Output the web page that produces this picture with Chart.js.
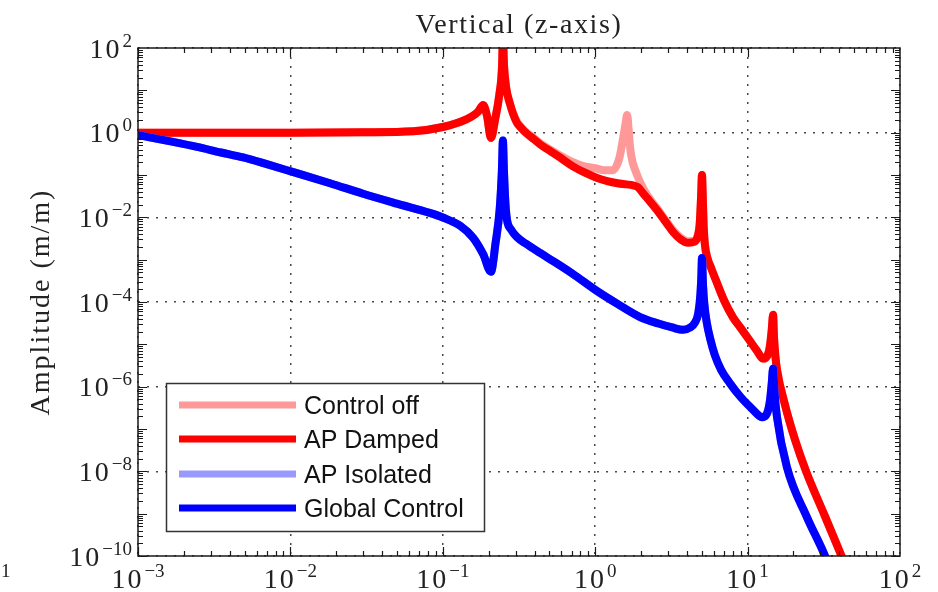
<!DOCTYPE html>
<html>
<head>
<meta charset="utf-8">
<script src="https://cdn.jsdelivr.net/npm/chart.js@4.4.0/dist/chart.umd.min.js"></script>
<style>
    html, body { margin: 0; padding: 0; background: #fff; }
</style>
</head>
<body>
<canvas id="fig" width="938" height="592"></canvas>
<script>
// Frequency (Hz) / amplitude (m/m)
const offFreq = [0.001, 0.01, 0.03, 0.064, 0.1, 0.14, 0.17, 0.184, 0.195, 0.207, 0.22, 0.235, 0.245, 0.248, 0.252, 0.26, 0.275, 0.29, 0.307, 0.33, 0.35, 0.4, 0.435, 0.5, 0.587, 0.714, 0.85, 1.0, 1.15, 1.3, 1.44, 1.52, 1.58, 1.62, 1.66, 1.7, 1.76, 1.83, 1.97, 2.2, 2.54, 2.9, 3.24, 3.6, 4.06, 4.4, 4.7, 4.85, 4.95, 5.02, 5.08, 5.15, 5.25, 5.45, 5.8, 6.3, 7.0, 8.0, 9.0, 10.4, 11.5, 12.6, 13.4, 14.0, 14.4, 14.7, 14.9, 15.2, 15.6, 17.6, 20.5, 24.2, 32, 41.6, 50];
const offAmp = [1.0, 1.0, 1.02, 1.08, 1.36, 2.0, 3.1, 4.5, 2.5, 0.75, 2.0, 8, 40, 200, 40, 12, 5, 2.8, 1.8, 1.3, 1.05, 0.72, 0.56, 0.41, 0.29, 0.2, 0.16, 0.145, 0.13, 0.13, 0.25, 0.7, 1.6, 2.6, 1.1, 0.4, 0.2, 0.13, 0.068, 0.033, 0.0165, 0.0085, 0.005, 0.0034, 0.0027, 0.0028, 0.0037, 0.007, 0.03, 0.1, 0.03, 0.006, 0.0022, 1.1e-3, 6e-4, 2.8e-4, 1.1e-4, 4.4e-5, 2.44e-5, 1.18e-5, 7.1e-6, 4.6e-6, 5.2e-6, 9e-6, 2.2e-5, 5e-5, 1.5e-5, 5.5e-6, 2.5e-6, 3.7e-7, 5.5e-8, 1e-8, 9.1e-10, 9.5e-11, 1.9e-11];

const dampedFreq = [0.001, 0.01, 0.03, 0.064, 0.1, 0.14, 0.17, 0.184, 0.195, 0.207, 0.22, 0.235, 0.245, 0.248, 0.252, 0.26, 0.275, 0.29, 0.307, 0.33, 0.35, 0.4, 0.435, 0.5, 0.587, 0.714, 0.85, 1.03, 1.2, 1.4, 1.6, 1.77, 1.9, 2.05, 2.2, 2.54, 2.9, 3.24, 3.6, 4.06, 4.4, 4.7, 4.85, 4.95, 5.02, 5.08, 5.15, 5.25, 5.45, 5.8, 6.3, 7.0, 8.0, 9.0, 10.4, 11.5, 12.6, 13.4, 14.0, 14.4, 14.7, 14.9, 15.2, 15.6, 17.6, 20.5, 24.2, 32, 41.6, 50];
const dampedAmp = [1.0, 1.0, 1.02, 1.08, 1.36, 2.0, 3.1, 4.5, 2.5, 0.75, 2.0, 8, 40, 200, 40, 12, 5, 2.7, 1.7, 1.25, 1.0, 0.68, 0.53, 0.38, 0.26, 0.16, 0.115, 0.085, 0.072, 0.064, 0.06, 0.057, 0.052, 0.038, 0.028, 0.0149, 0.0078, 0.0045, 0.0031, 0.0025, 0.0026, 0.0035, 0.007, 0.03, 0.1, 0.03, 0.006, 0.0022, 1.1e-3, 6e-4, 2.8e-4, 1.1e-4, 4.4e-5, 2.44e-5, 1.18e-5, 7.1e-6, 4.6e-6, 5.2e-6, 9e-6, 2.2e-5, 5e-5, 1.5e-5, 5.5e-6, 2.5e-6, 3.7e-7, 5.5e-8, 1e-8, 9.1e-10, 9.5e-11, 1.9e-11];

const isolatedFreq = [0.001, 0.0016, 0.00244, 0.0035, 0.0049, 0.007, 0.0102, 0.0182, 0.03, 0.05, 0.082, 0.1, 0.13, 0.158, 0.184, 0.207, 0.222, 0.236, 0.244, 0.248, 0.252, 0.258, 0.264, 0.28, 0.307, 0.35, 0.435, 0.55, 0.714, 1.03, 1.4, 1.97, 2.6, 3.2, 3.77, 4.2, 4.5, 4.75, 4.9, 4.97, 5.02, 5.1, 5.2, 5.4, 5.7, 6.1, 6.7, 7.66, 9.0, 10.4, 11.5, 12.4, 13.3, 14.0, 14.4, 14.7, 15.0, 15.6, 18.1, 24.5, 32.2, 40];
const isolatedAmp = [0.88, 0.63, 0.46, 0.34, 0.26, 0.18, 0.12, 0.064, 0.036, 0.021, 0.0127, 0.0099, 0.0063, 0.0033, 1.35e-3, 5.2e-4, 2.5e-3, 0.015, 0.12, 0.65, 0.12, 0.02, 8.6e-3, 5.2e-3, 3.4e-3, 2.4e-3, 1.44e-3, 8.5e-4, 4.6e-4, 1.8e-4, 9e-5, 4.4e-5, 3.1e-5, 2.5e-5, 2.2e-5, 2.5e-5, 3.2e-5, 5.5e-5, 1.5e-4, 4e-4, 1.1e-3, 2.5e-4, 9e-5, 3.2e-5, 1.3e-5, 5.5e-6, 2.5e-6, 1.2e-6, 5.7e-7, 3.3e-7, 2.3e-7, 1.9e-7, 2.2e-7, 4.5e-7, 1.2e-6, 2.7e-6, 8e-7, 1.9e-7, 1.26e-8, 8.3e-10, 1e-10, 1.2e-11];

const globalFreq = [0.001, 0.0016, 0.00244, 0.0035, 0.0049, 0.007, 0.0102, 0.0182, 0.03, 0.05, 0.082, 0.1, 0.13, 0.158, 0.184, 0.207, 0.222, 0.236, 0.244, 0.248, 0.252, 0.258, 0.264, 0.28, 0.307, 0.35, 0.435, 0.55, 0.714, 1.03, 1.4, 1.97, 2.6, 3.2, 3.77, 4.2, 4.5, 4.75, 4.9, 4.97, 5.02, 5.1, 5.2, 5.4, 5.7, 6.1, 6.7, 7.66, 9.0, 10.4, 11.5, 12.4, 13.3, 14.0, 14.4, 14.7, 15.0, 15.6, 18.1, 24.5, 32.2, 40];
const globalAmp = [0.88, 0.63, 0.46, 0.34, 0.26, 0.18, 0.12, 0.064, 0.036, 0.021, 0.0127, 0.0099, 0.0063, 0.0033, 1.35e-3, 5.2e-4, 2.5e-3, 0.015, 0.12, 0.65, 0.12, 0.02, 8.6e-3, 5.2e-3, 3.4e-3, 2.4e-3, 1.44e-3, 8.5e-4, 4.6e-4, 1.8e-4, 9e-5, 4.4e-5, 3.1e-5, 2.5e-5, 2.2e-5, 2.5e-5, 3.2e-5, 5.5e-5, 1.5e-4, 4e-4, 1.1e-3, 2.5e-4, 9e-5, 3.2e-5, 1.3e-5, 5.5e-6, 2.5e-6, 1.2e-6, 5.7e-7, 3.3e-7, 2.3e-7, 1.9e-7, 2.2e-7, 4.5e-7, 1.2e-6, 2.7e-6, 8e-7, 1.9e-7, 1.26e-8, 8.3e-10, 1e-10, 1.2e-11];

const seriesLabels = ['Control off', 'AP Damped', 'AP Isolated', 'Global Control'];
const seriesColors = ['#ff9999', '#ff0000', '#9999ff', '#0000ff'];

// tick label exponents (10^e)
const xTickExps = [-3, -2, -1, 0, 1, 2];
const yTickExps = [2, 0, -2, -4, -6, -8, -10];

const titleText = 'Vertical (z-axis)';
const yTitleText = 'Amplitude (m/m)';

const serif = '"Liberation Serif", "Times New Roman", serif';
const sans = '"Liberation Sans", Arial, sans-serif';

function toPoints(xs, ys) {
    return xs.map((v, i) => ({ x: v, y: ys[i] }));
}

function isPow10(v) {
    const l = Math.log10(v);
    return Math.abs(l - Math.round(l)) < 1e-6;
}

const allSeries = [
    toPoints(offFreq, offAmp),
    toPoints(dampedFreq, dampedAmp),
    toPoints(isolatedFreq, isolatedAmp),
    toPoints(globalFreq, globalAmp)
];

const datasets = allSeries.map((pts, i) => ({
    label: seriesLabels[i],
    data: pts,
    borderColor: seriesColors[i],
    backgroundColor: seriesColors[i],
    borderWidth: 8,
    pointRadius: 0,
    cubicInterpolationMode: 'monotone',
    borderJoinStyle: 'round',
    borderCapStyle: 'round',
    clip: 0,
    order: 4 - i
}));

function drawPow(ctx, e, x, baseline, align) {
    const base = '10';
    const exp = (e < 0 ? '\u2212' : '') + Math.abs(e);
    ctx.font = '28px ' + serif;
    ctx.letterSpacing = '2px';
    const wb = ctx.measureText(base).width;
    ctx.font = '19px ' + serif;
    ctx.letterSpacing = '0px';
    const we = ctx.measureText(exp).width;
    const total = wb + 1 + we;
    let left = align === 'right' ? x - total : x - total / 2;
    ctx.textAlign = 'left';
    ctx.textBaseline = 'alphabetic';
    ctx.font = '28px ' + serif;
    ctx.letterSpacing = '2px';
    ctx.fillText(base, left, baseline);
    ctx.font = '19px ' + serif;
    ctx.letterSpacing = '0px';
    ctx.fillText(exp, left + wb + 1, baseline - 11);
}

const framePlugin = {
    id: 'frame',
    afterDatasetsDraw(chart) {
        const { ctx, chartArea: a, scales: { x, y } } = chart;
        ctx.save();
        ctx.strokeStyle = '#1a1a1a';
        ctx.lineWidth = 1.2;
        ctx.beginPath();
        // x ticks, top and bottom, pointing inward
        for (let e = -3; e < 2; e++) {
            for (let m = 1; m < 10; m++) {
                const px = Math.round(x.getPixelForValue(m * Math.pow(10, e))) + 0.5;
                const len = m === 1 ? 9 : 5;
                ctx.moveTo(px, a.bottom); ctx.lineTo(px, a.bottom - len);
                ctx.moveTo(px, a.top); ctx.lineTo(px, a.top + len);
            }
        }
        // y ticks, left and right
        for (let e = -10; e < 2; e++) {
            for (let m = 1; m < 10; m++) {
                const py = Math.round(y.getPixelForValue(m * Math.pow(10, e))) + 0.5;
                const len = m === 1 ? 9 : 5;
                ctx.moveTo(a.left, py); ctx.lineTo(a.left + len, py);
                ctx.moveTo(a.right, py); ctx.lineTo(a.right - len, py);
            }
        }
        ctx.stroke();
        ctx.lineWidth = 1.5;
        ctx.strokeRect(a.left, a.top, a.right - a.left, a.bottom - a.top);
        ctx.restore();
    },
    afterDraw(chart) {
        const { ctx, chartArea: a, scales: { x, y } } = chart;
        ctx.save();
        ctx.fillStyle = '#222';

        xTickExps.forEach(e => drawPow(ctx, e, x.getPixelForValue(Math.pow(10, e)), 588, 'center'));
        yTickExps.forEach(e => drawPow(ctx, e, 132, y.getPixelForValue(Math.pow(10, e)) + 9.5, 'right'));

        // leftover exponent from the neighbouring panel
        ctx.font = '19px ' + serif;
        ctx.textAlign = 'left';
        ctx.fillText('1', 1, 577);

        // title
        ctx.font = '28px ' + serif;
        ctx.letterSpacing = '1.6px';
        ctx.textAlign = 'center';
        ctx.fillText(titleText, (a.left + a.right) / 2, 33);

        // y axis title
        ctx.letterSpacing = '2px';
        ctx.translate(49, (a.top + a.bottom) / 2);
        ctx.rotate(-Math.PI / 2);
        ctx.fillText(yTitleText, 0, 0);
        ctx.setTransform(1, 0, 0, 1, 0, 0);
        ctx.letterSpacing = '0px';

        // legend box
        const lx = 166.5, ly = 383.5, lw = 318, lh = 148;
        ctx.fillStyle = '#fff';
        ctx.fillRect(lx, ly, lw, lh);
        ctx.strokeStyle = '#333';
        ctx.lineWidth = 1.5;
        ctx.strokeRect(lx, ly, lw, lh);
        const rows = [405, 439, 474, 508];
        chart.data.datasets.forEach((ds, i) => {
            ctx.strokeStyle = ds.borderColor;
            ctx.lineWidth = 7;
            ctx.beginPath();
            ctx.moveTo(179, rows[i]);
            ctx.lineTo(296, rows[i]);
            ctx.stroke();
            ctx.fillStyle = '#111';
            ctx.font = '25px ' + sans;
            ctx.textAlign = 'left';
            ctx.textBaseline = 'alphabetic';
            ctx.fillText(ds.label, 304, rows[i] + 9);
        });
        ctx.restore();
    }
};

new Chart(document.getElementById('fig'), {
    type: 'line',
    data: { datasets: datasets },
    options: {
        responsive: false,
        animation: false,
        layout: { padding: { left: 138, right: 38, top: 48, bottom: 36 } },
        plugins: {
            legend: { display: false },
            tooltip: { enabled: false }
        },
        scales: {
            x: {
                type: 'logarithmic',
                min: 1e-3,
                max: 1e2,
                ticks: { display: false, autoSkip: false },
                border: { display: false, dash: [2, 7] },
                grid: {
                    drawTicks: false,
                    lineWidth: 1.5,
                    color: c => (isPow10(c.tick.value) ? 'rgba(40,40,40,0.85)' : 'rgba(0,0,0,0)')
                }
            },
            y: {
                type: 'logarithmic',
                min: 1e-10,
                max: 1e2,
                ticks: { display: false, autoSkip: false },
                border: { display: false, dash: [2, 7] },
                grid: {
                    drawTicks: false,
                    lineWidth: 1.5,
                    color: c => {
                        const l = Math.round(Math.log10(c.tick.value));
                        return isPow10(c.tick.value) && l % 2 === 0 ? 'rgba(40,40,40,0.85)' : 'rgba(0,0,0,0)';
                    }
                }
            }
        }
    },
    plugins: [framePlugin]
});
</script>
</body>
</html>
